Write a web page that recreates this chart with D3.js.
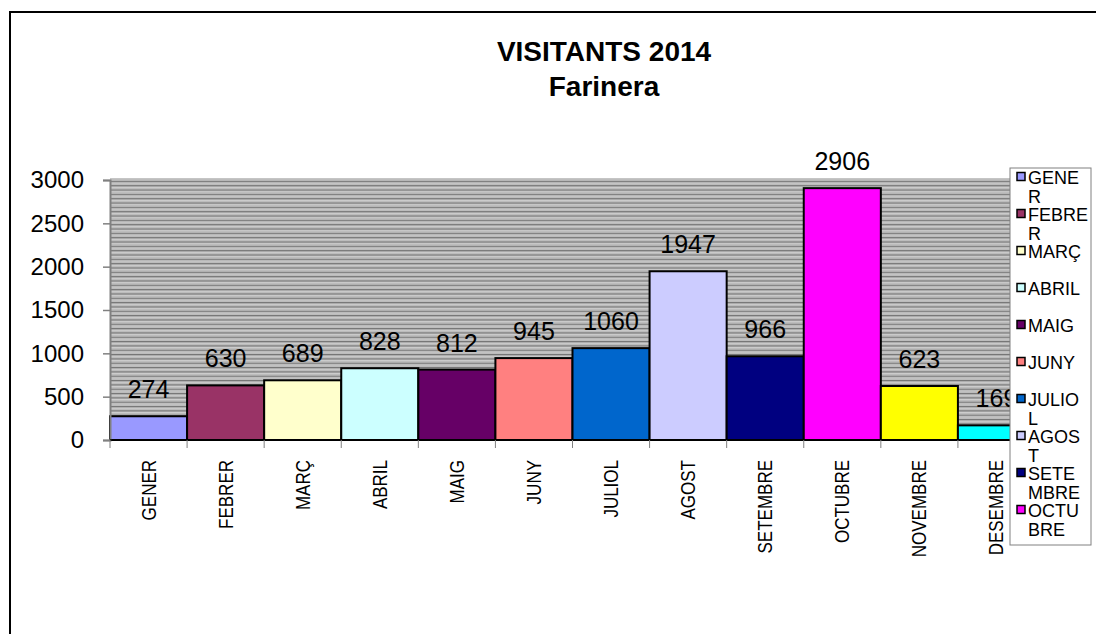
<!DOCTYPE html>
<html>
<head>
<meta charset="utf-8">
<script src="https://cdn.jsdelivr.net/npm/d3@7"></script>
<style>
  body { margin: 0; background: #fff; }
  text { font-family: "Liberation Sans", Arial, sans-serif; }
</style>
</head>
<body>
<svg id="chart" width="1096" height="634"></svg>
<script>
// months and visitors
const months = ['GENER', 'FEBRER', 'MARÇ', 'ABRIL', 'MAIG', 'JUNY', 'JULIOL',
  'AGOST', 'SETEMBRE', 'OCTUBRE', 'NOVEMBRE', 'DESEMBRE']
const visitors = [274, 630, 689, 828, 812, 945, 1060, 1947, 966, 2906, 623, 169]
const colors = ['#9999FF', '#993366', '#FFFFCC', '#CCFFFF', '#660066', '#FF8080',
  '#0066CC', '#CCCCFF', '#000080', '#FF00FF', '#FFFF00', '#00FFFF']
const yTicks = [0, 500, 1000, 1500, 2000, 2500, 3000]
const titleLines = ['VISITANTS 2014', 'Farinera']

const svg = d3.select('#chart')
const plotL = 110, plotR = 1035, plotT = 180, plotB = 440

// outer frame, only top/left edges visible in the window
svg.append('rect')
  .attr('x', 10).attr('y', 12).attr('width', 1200).attr('height', 800)
  .attr('fill', '#fff').attr('stroke', '#000').attr('stroke-width', 2)

// striped plot background
const defs = svg.append('defs')
const pat = defs.append('pattern')
  .attr('id', 'stripes').attr('patternUnits', 'userSpaceOnUse')
  .attr('width', 8).attr('height', 4.33).attr('y', plotT)
pat.append('rect').attr('width', 8).attr('height', 4.33).attr('fill', '#bcbcbc')
pat.append('rect').attr('y', 1.2).attr('width', 8).attr('height', 1).attr('fill', '#4a4a4a')
pat.append('rect').attr('y', 2.2).attr('width', 8).attr('height', 1).attr('fill', '#d6d6d6')

const x = d3.scaleBand().domain(months).range([plotL, plotR]).padding(0)
const y = d3.scaleLinear().domain([0, 3000]).range([plotB, plotT])

svg.append('rect')
  .attr('x', plotL).attr('y', plotT - 2).attr('width', plotR - plotL).attr('height', plotB - plotT + 2)
  .attr('fill', 'url(#stripes)')

// bars
svg.selectAll('rect.bar')
  .data(visitors)
  .join('rect')
  .attr('class', 'bar')
  .attr('x', (d, i) => x(months[i]))
  .attr('y', (d) => y(d))
  .attr('width', x.bandwidth())
  .attr('height', (d) => plotB - y(d))
  .attr('fill', (d, i) => colors[i])
  .attr('stroke', '#000')
  .attr('stroke-width', 2)

// value labels
svg.selectAll('text.val')
  .data(visitors)
  .join('text')
  .attr('class', 'val')
  .attr('x', (d, i) => x(months[i]) + x.bandwidth() / 2)
  .attr('y', (d) => y(d) - 18)
  .attr('text-anchor', 'middle')
  .attr('font-size', 25)
  .text((d) => d)

// y axis
const yAxis = svg.append('g')
  .attr('transform', `translate(${plotL},0)`)
  .call(d3.axisLeft(y).tickValues(yTicks).tickFormat(d3.format('d')).tickSize(7).tickPadding(19))
yAxis.select('.domain').attr('stroke', '#808080').attr('stroke-width', 2)
yAxis.selectAll('.tick line').attr('stroke', '#808080').attr('stroke-width', 1.5)
yAxis.selectAll('.tick text').attr('font-size', 24).attr('fill', '#000')
  .attr('font-family', '"Liberation Sans", Arial, sans-serif')

// x axis: ticks at band boundaries, rotated labels
svg.append('line')
  .attr('x1', plotL).attr('x2', plotR).attr('y1', plotB).attr('y2', plotB)
  .attr('stroke', '#000').attr('stroke-width', 1.5)
svg.selectAll('line.xtick')
  .data(d3.range(months.length + 1))
  .join('line')
  .attr('class', 'xtick')
  .attr('x1', (i) => plotL + i * x.bandwidth())
  .attr('x2', (i) => plotL + i * x.bandwidth())
  .attr('y1', plotB).attr('y2', plotB + 8)
  .attr('stroke', '#808080')
// labels in the original are a bit stretched across
svg.selectAll('text.cat')
  .data(months)
  .join('text')
  .attr('class', 'cat')
  .attr('transform', (d) => `translate(${x(d) + x.bandwidth() / 2 + 7},460) rotate(-90) scale(1,1.2)`)
  .attr('text-anchor', 'end')
  .attr('font-size', 17)
  .text((d) => d)

// title
svg.selectAll('text.title')
  .data(titleLines)
  .join('text')
  .attr('class', 'title')
  .attr('x', 604)
  .attr('y', (d, i) => 61 + i * 35)
  .attr('text-anchor', 'middle')
  .attr('font-size', 28)
  .attr('font-weight', 'bold')
  .text((d) => d)

// legend box, clipped like the original
const lx = 1010, ly = 168, lw = 81, lh = 377
defs.append('clipPath').attr('id', 'legclip')
  .append('rect').attr('x', lx).attr('y', ly).attr('width', lw).attr('height', lh)
const leg = svg.append('g')
leg.append('rect')
  .attr('x', lx).attr('y', ly).attr('width', lw).attr('height', lh)
  .attr('fill', '#fff').attr('stroke', '#808080')
const legItems = leg.append('g').attr('clip-path', 'url(#legclip)')

const maxW = 61
months.forEach((m, i) => {
  const cy = 177 + i * 37
  if (cy + 8 > ly + lh) return // no room left in the box
  legItems.append('rect')
    .attr('x', lx + 7).attr('y', cy - 4.5).attr('width', 8).attr('height', 8)
    .attr('fill', colors[i]).attr('stroke', '#000').attr('stroke-width', 1.5)
  const t = legItems.append('text')
    .attr('x', lx + 18).attr('y', cy + 6.5)
    .attr('font-size', 18)
  // break by character when the label is too wide
  let line = ''
  const lines = []
  for (const ch of m) {
    t.text(line + ch)
    if (t.node().getComputedTextLength() > maxW && line) {
      lines.push(line)
      line = ch
    } else line += ch
  }
  lines.push(line)
  t.text(null)
  lines.forEach((l, k) => {
    t.append('tspan').attr('x', lx + 18).attr('dy', k === 0 ? 0 : 19.5).text(l)
  })
})
</script>
</body>
</html>
